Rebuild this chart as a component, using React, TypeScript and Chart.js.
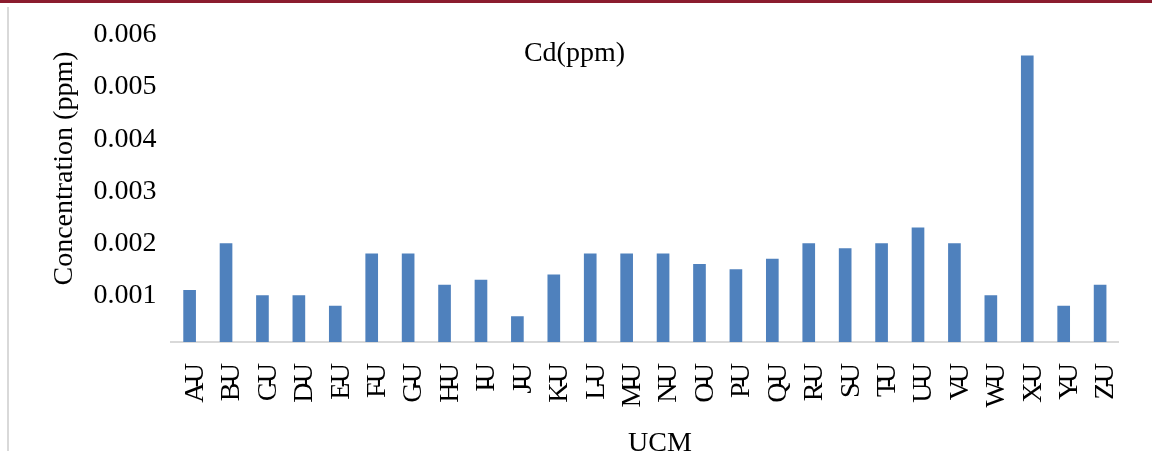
import React, { useEffect, useRef } from "react";
import { Chart, registerables } from "chart.js";

Chart.register(...registerables);

const categories = ["A-U","B-U","C-U","D-U","E-U","F-U","G-U","H-U","I-U","J-U","K-U","L-U","M-U","N-U","O-U","P-U","Q-U","R-U","S-U","T-U","U-U","V-U","W-U","X-U","Y-U","Z-U"];
const cdValues = [0.0011,0.002,0.001,0.001,0.0008,0.0018,0.0018,0.0012,0.0013,0.0006,0.0014,0.0018,0.0018,0.0018,0.0016,0.0015,0.0017,0.002,0.0019,0.002,0.0023,0.002,0.001,0.0056,0.0008,0.0012];
const yTickValues = [0.001,0.002,0.003,0.004,0.005,0.006];
const chartTitle = "Cd(ppm)";
const yTitle = "Concentration (ppm)";
const xTitle = "UCM";

const FONT = "'Liberation Serif', 'Times New Roman', serif";

export default function App() {
  const ref = useRef<HTMLCanvasElement | null>(null);
  useEffect(() => {
    const canvas = ref.current!;
    const textPlugin = {
      id: "texts",
      afterDatasetsDraw(chart: any) {
        chart.ctx.letterSpacing = "-5px";
      },
      afterDraw(chart: any) {
        const ctx = chart.ctx;
        ctx.save();
        ctx.letterSpacing = "0px";
        ctx.fillStyle = "#000";
        ctx.font = `28px ${FONT}`;
        ctx.textAlign = "center";
        ctx.textBaseline = "alphabetic";
        ctx.fillText(chartTitle, 574.5, 61);
        ctx.fillText(xTitle, 660, 451);
        ctx.translate(72, 168.5);
        ctx.rotate(-Math.PI / 2);
        ctx.fillText(yTitle, 0, 0);
        ctx.restore();
        ctx.letterSpacing = "0px";
      },
    };
    const chart = new Chart(canvas, {
      type: "bar",
      data: {
        labels: categories,
        datasets: [
          {
            label: chartTitle,
            data: cdValues,
            backgroundColor: "#4F81BD",
            barThickness: 12,
          },
        ],
      },
      options: {
        responsive: false,
        animation: false,
        layout: { padding: { left: 0, right: 15.4, top: 35, bottom: 0 } },
        plugins: { legend: { display: false }, title: { display: false }, tooltip: { enabled: false } },
        scales: {
          x: {
            grid: { display: false },
            border: { display: true, color: "#D9D9D9", width: 2 },
            ticks: {
              z: 1,
              color: "#000",
              font: { family: FONT, size: 28 },
              minRotation: 90,
              maxRotation: 90,
              autoSkip: false,
              padding: 18,
              labelOffset: 6,
            },
            afterFit(scale: any) {
              scale.height = 109;
            },
          },
          y: {
            min: 0.00011,
            max: 0.006,
            grid: { display: false },
            border: { display: false },
            ticks: {
              color: "#000",
              font: { family: FONT, size: 28 },
              padding: 7,
              callback: (v: any) => Number(v).toFixed(3),
            },
            afterBuildTicks(scale: any) {
              scale.ticks = yTickValues.map((v) => ({ value: v }));
            },
            afterFit(scale: any) {
              scale.width = 171.4;
            },
          },
        },
      },
      plugins: [textPlugin],
    });
    return () => chart.destroy();
  }, []);
  return (
    <div style={{ position: "absolute", left: 0, top: 0, width: 1152, height: 451, background: "#fff", overflow: "hidden" }}>
      <div style={{ position: "absolute", left: 0, top: 0, width: 1152, height: 2.5, background: "#8B1C2E" }} />
      <div style={{ position: "absolute", left: 7, top: 7, width: 2, height: 444, background: "#D9D9D9" }} />
      <canvas ref={ref} width={1152} height={451} style={{ position: "absolute", left: 0, top: 0, width: 1152, height: 451 }} />
    </div>
  );
}
